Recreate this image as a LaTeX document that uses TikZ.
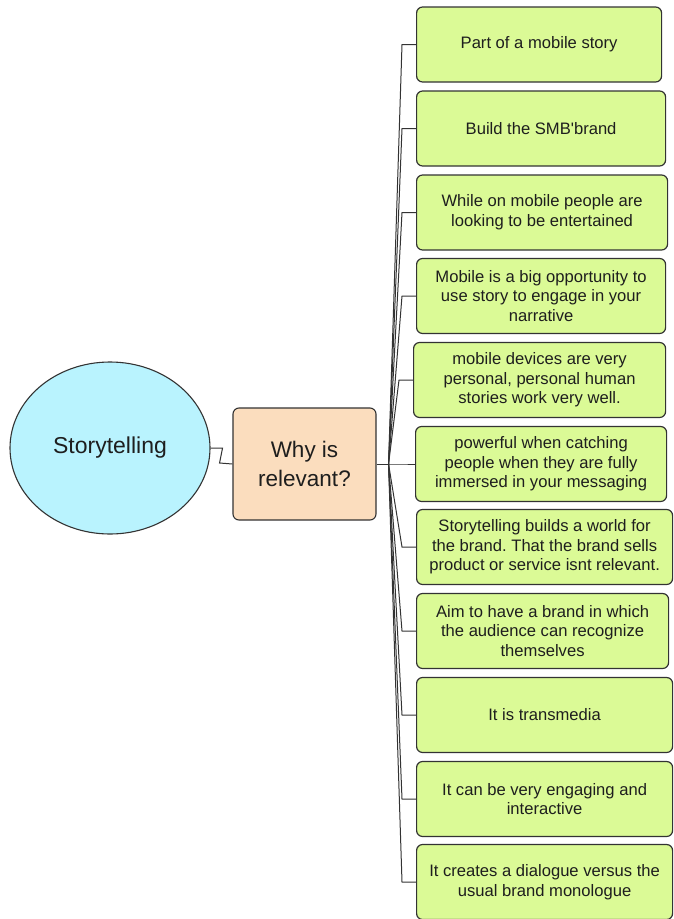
\documentclass[tikz,border=0pt]{standalone}
\usepackage{fontspec}
\setmainfont{Liberation Sans}
\usetikzlibrary{shapes.geometric}
\frenchspacing
\definecolor{rootfill}{HTML}{B9F3FE}
\definecolor{whyfill}{HTML}{FBDDBE}
\definecolor{leaffill}{HTML}{DBFA96}
\definecolor{edgegray}{HTML}{333333}
\definecolor{inkgray}{HTML}{1E1E1E}
\begin{document}
\begin{tikzpicture}[x=1pt,y=-1pt,
  rootnode/.style={ellipse,draw=edgegray,line width=1.1pt,fill=rootfill,
    minimum width=200pt,minimum height=172pt,inner sep=0pt,text=inkgray,
    font=\fontsize{23}{28}\selectfont},
  whynode/.style={rectangle,rounded corners=6pt,draw=edgegray,line width=1.1pt,fill=whyfill,
    minimum width=143pt,minimum height=112pt,inner sep=0pt,align=center,text=inkgray,
    font=\fontsize{22.5}{29}\selectfont},
  leaf/.style={rectangle,rounded corners=6pt,draw=edgegray,line width=1.2pt,fill=leaffill,
    minimum height=75pt,inner sep=0pt,anchor=west,align=center,text=inkgray,
    font=\fontsize{16.6}{19.6}\selectfont},
  link/.style={draw=edgegray,line width=1pt}]
\useasboundingbox (0,0) rectangle (673,919);

\node[rootnode] (root) at (110,448) {Storytelling};
\node[whynode] (why) at (304.5,464) {Why is\\relevant?};

\node[leaf,minimum width=245pt] (l1)  at (416,44.5)  {Part of a mobile story};
\node[leaf,minimum width=249pt] (l2)  at (416,128.5) {Build the SMB\textquotesingle brand};
\node[leaf,minimum width=251pt] (l3)  at (416,212.5) {While on mobile people are\\looking to be entertained};
\node[leaf,minimum width=249pt] (l4)  at (416,296)   {Mobile is a big opportunity to\\use story to engage in your\\narrative};
\node[leaf,minimum width=252pt] (l5)  at (413,380)   {mobile devices are very\\personal, personal human\\stories work very well.};
\node[leaf,minimum width=251pt] (l6)  at (415,464)   {powerful when catching\\people when they are fully\\immersed in your messaging};
\node[leaf,minimum width=256pt] (l7)  at (416,547)   {Storytelling builds a world for\\the brand. That the brand sells\\product or service isnt relevant.};
\node[leaf,minimum width=252pt] (l8)  at (416,631)   {Aim to have a brand in which\\the audience can recognize\\themselves};
\node[leaf,minimum width=256pt] (l9)  at (416,715)   {It is transmedia};
\node[leaf,minimum width=256pt] (l10) at (416,799)   {It can be very engaging and\\interactive};
\node[leaf,minimum width=256pt] (l11) at (416,882)   {It creates a dialogue versus the\\usual brand monologue};

% root to question
\draw[link] (root.east) -- ++(12,0) -- ++(-3,15) -- (why.west);

% question fans out to every leaf
\draw[link] (why.east) -- ++(12,0) coordinate (hub);
\foreach \leafname in {l1,l2,l3,l4,l5,l6,l7,l8,l9,l10,l11}{
  \draw[link] (hub) -- ([xshift=-14pt]\leafname.west) -- (\leafname.west);
}
\end{tikzpicture}
\end{document}
